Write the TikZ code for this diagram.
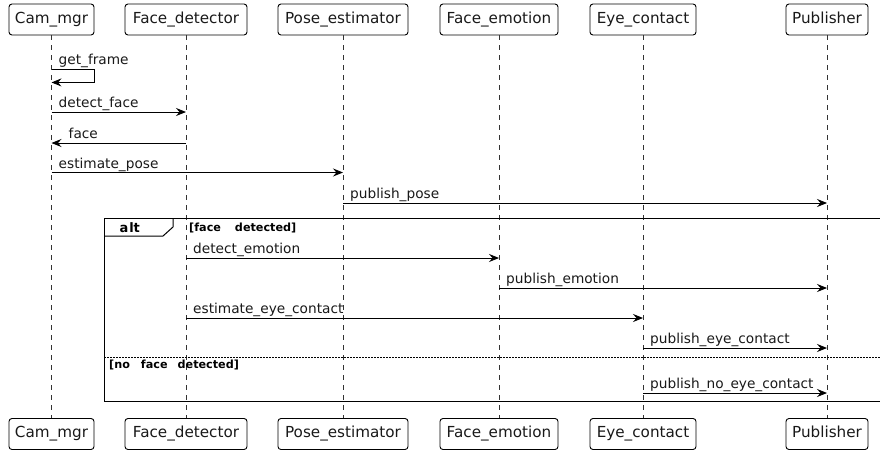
\documentclass[tikz,border=0pt]{standalone}
\usepackage{fontspec}
\setmainfont{DejaVu Sans}
\usetikzlibrary{arrows.meta,calc}
\begin{document}
\begin{tikzpicture}[x=1pt,y=-1pt,
  part/.style={draw=black,line width=0.9pt,rounded corners=3pt,minimum height=31pt,inner sep=0pt,text height=11pt,text depth=3.5pt,font=\fontsize{15.2}{17}\selectfont,text=black!90},
  life/.style={draw=black!80,dash pattern=on 5pt off 5pt,line width=0.8pt},
  msg/.style={draw=black,line width=0.9pt,-{Stealth[length=10pt,width=8pt,inset=3.5pt]}},
  lbl/.style={font=\fontsize{13.7}{15}\selectfont,inner sep=0pt,anchor=base west,text=black!90},
  grd/.style={font=\fontsize{11.2}{12}\bfseries\selectfont,inner sep=0pt,anchor=base west},
  frm/.style={draw=black,line width=1pt}]
\useasboundingbox (0,0) rectangle (880,450);
% participants
\node[part,minimum width=85pt] (camT) at (51.5,19.5) {Cam\_mgr};
\node[part,minimum width=122pt] (fdT) at (186,19.5) {Face\_detector};
\node[part,minimum width=130pt] (peT) at (343,19.5) {Pose\_estimator};
\node[part,minimum width=118pt] (feT) at (499,19.5) {Face\_emotion};
\node[part,minimum width=106pt] (ecT) at (643,19.5) {Eye\_contact};
\node[part,minimum width=82pt] (pubT) at (827,19.5) {Publisher};
\node[part,minimum width=85pt] (camB) at (51.5,434) {Cam\_mgr};
\node[part,minimum width=122pt] (fdB) at (186,434) {Face\_detector};
\node[part,minimum width=130pt] (peB) at (343,434) {Pose\_estimator};
\node[part,minimum width=118pt] (feB) at (499,434) {Face\_emotion};
\node[part,minimum width=106pt] (ecB) at (643,434) {Eye\_contact};
\node[part,minimum width=82pt] (pubB) at (827,434) {Publisher};
% lifelines
\foreach \p in {cam,fd,pe,fe,ec,pub}{\draw[life] (\p T.south) -- (\p B.north);}
% alt frame
\coordinate (fTL) at (104,218.5);
\coordinate (fBL) at (104,401.5);
\coordinate (fTR) at (880,218.5);
\coordinate (fBR) at (880,401.5);
\draw[frm] (fTR) -- (fTL) -- (fBL) -- (fBR);
\draw[frm] (104,236) -- (163,236) -- (173,227) -- (173,218.5);
\node[font=\fontsize{13}{14}\bfseries\selectfont,inner sep=0pt,anchor=base west] (altlbl) at (119.5,232) {a\kern0.8pt lt};
\node[grd] (g1) at (189,231.5) {[face\hspace{14pt}detected]};
\draw[black,line width=0.9pt,dash pattern=on 1.5pt off 1.5pt] (fBL |- 0,357) -- (fBR |- 0,357);
\node[grd] (g2) at (109,368) {[no\hspace{11pt}face\hspace{10pt}detected]};
% get_frame self message
\coordinate (s1) at ($(camT.south)+(0,34)$);
\coordinate (s2) at ($(s1)+(43,0)$);
\coordinate (s3) at ($(s1)+(43,13)$);
\coordinate (s4) at ($(s1)+(0,13)$);
\draw[msg] (s1) -- (s2) -- (s3) -- (s4);
\node[lbl] (l0) at ($(s1)+(7,-4.5)$) {get\_frame};
% messages
\draw[msg] (camT |- 0,112) -- (fdT |- 0,112);
\node[lbl] (l1) at ($(camT |- 0,112)+(7,-4.5)$) {detect\_face};
\draw[msg] (fdT |- 0,143) -- (camT |- 0,143);
\node[lbl] (l2) at ($(camT |- 0,143)+(17,-4.5)$) {face};
\draw[msg] (camT |- 0,172.5) -- (peT |- 0,172.5);
\node[lbl] (l3) at ($(camT |- 0,172.5)+(7,-4.5)$) {estimate\_pose};
\draw[msg] (peT |- 0,203) -- (pubT |- 0,203);
\node[lbl] (l4) at ($(peT |- 0,203)+(7,-4.5)$) {publish\_pose};
\draw[msg] (fdT |- 0,258) -- (feT |- 0,258);
\node[lbl] (l5) at ($(fdT |- 0,258)+(7,-4.5)$) {detect\_emotion};
\draw[msg] (feT |- 0,288) -- (pubT |- 0,288);
\node[lbl] (l6) at ($(feT |- 0,288)+(7,-4.5)$) {publish\_emotion};
\draw[msg] (fdT |- 0,318) -- (ecT |- 0,318);
\node[lbl] (l7) at ($(fdT |- 0,318)+(7,-4.5)$) {estimate\_eye\_contact};
\draw[msg] (ecT |- 0,348) -- (pubT |- 0,348);
\node[lbl] (l8) at ($(ecT |- 0,348)+(7,-4.5)$) {publish\_eye\_contact};
\draw[msg] (ecT |- 0,393) -- (pubT |- 0,393);
\node[lbl] (l9) at ($(ecT |- 0,393)+(7,-4.5)$) {publish\_no\_eye\_contact};
\end{tikzpicture}
\end{document}
